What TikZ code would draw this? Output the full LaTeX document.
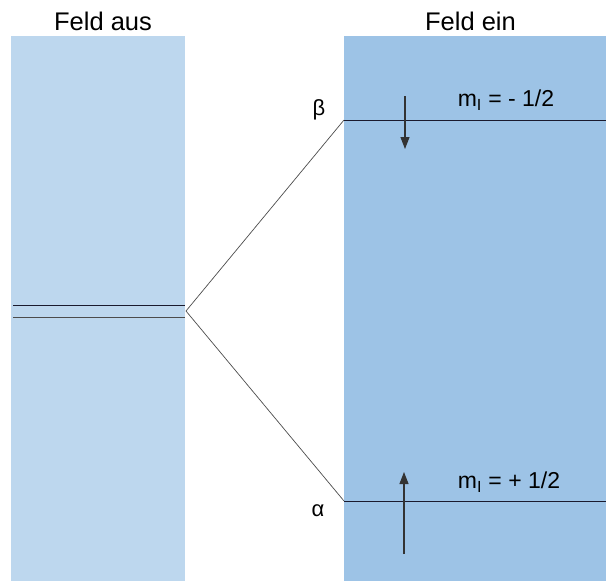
\documentclass[tikz,border=0pt]{standalone}
\usepackage{fontspec}
\setmainfont{Liberation Sans}
\usetikzlibrary{arrows.meta}
\definecolor{offblue}{HTML}{BDD7EE}
\definecolor{onblue}{HTML}{9DC3E6}
\definecolor{levelcol}{HTML}{1A1A2E}
\begin{document}
\begin{tikzpicture}[x=1pt,y=-1pt,
  lbl/.style={font=\fontsize{22}{26}\selectfont, inner sep=0pt, anchor=center},
  mlbl/.style={font=\fontsize{23}{27}\selectfont, inner sep=0pt, anchor=center},
  title/.style={font=\fontsize{25.5}{30}\selectfont, inner sep=0pt, anchor=center},
  level/.style={draw=levelcol, line width=1pt},
  split/.style={draw=black!70, line width=0.7pt},
  spinarrow/.style={draw=black!80, line width=1.1pt, -{Triangle[length=12pt,width=9pt]}}]
\useasboundingbox (0,0) rectangle (606,581);
\fill[offblue] (11,36) rectangle (185,581);
\fill[onblue] (344,36) rectangle (606,581);
\node[title] (taus) at (103,21) {Feld aus};
\node[title] (tein) at (470.5,21) {Feld ein};
% levels left
\coordinate (l1a) at (13,305);
\coordinate (l1b) at (185,305);
\coordinate (l2a) at (13,317);
\coordinate (l2b) at (185,317);
\draw[level] (l1a) -- (l1b);
\draw[level, draw=black!70] (l2a) -- (l2b);
\coordinate (sp) at (186,311);
\coordinate (bl) at (344,120);
\coordinate (br) at (606,120);
\coordinate (al) at (344,501);
\coordinate (ar) at (606,501);
\draw[split] (sp) -- (bl);
\draw[split] (sp) -- (al);
\draw[level] (bl) -- (br);
\draw[level] (al) -- (ar);
\node[lbl] (beta) at (319,110) {β};
\node[lbl] (alpha) at (318,511) {α};
\node[mlbl] (mb) at (506,100) {m\textsubscript{I} = - 1/2};
\node[mlbl] (ma) at (509,482) {m\textsubscript{I} = + 1/2};
\coordinate (d1) at (405,96);
\coordinate (d2) at (405,149);
\coordinate (u1) at (404,554);
\coordinate (u2) at (404,472);
\draw[spinarrow] (d1) -- (d2);
\draw[spinarrow] (u1) -- (u2);
\end{tikzpicture}
\end{document}
